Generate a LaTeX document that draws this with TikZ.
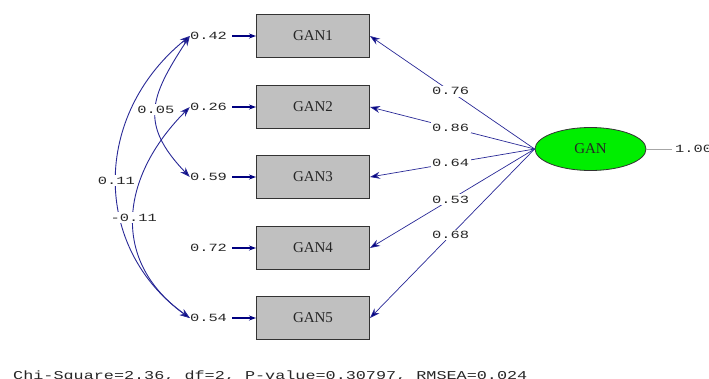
\documentclass[tikz,border=0pt]{standalone}
\usepackage{fontspec}
\setmainfont{Liberation Serif}
\newfontfamily\lismono[FakeStretch=1.4]{Liberation Mono}
\usetikzlibrary{arrows.meta,shapes.geometric}
\definecolor{lisnavy}{RGB}{0,0,128}
\definecolor{lisline}{RGB}{40,40,150}
\definecolor{lisgray}{RGB}{192,192,192}
\definecolor{lisgreen}{RGB}{0,238,0}
\tikzset{
	obsbox/.style={draw=black!80,line width=1pt,fill=lisgray,minimum width=113pt,minimum height=43pt,inner sep=0pt,font=\fontsize{15}{15}\selectfont,text=black!85},
	latell/.style={ellipse,draw=black!80,line width=0.8pt,fill=lisgreen,minimum width=111pt,minimum height=43pt,inner sep=0pt,font=\fontsize{15}{15}\selectfont,text=black!85},
	est/.style={font=\lismono\fontsize{11}{11}\selectfont,inner sep=0pt,text=black!85},
	estw/.style={est,fill=white,inner sep=1.5pt},
	loadarrow/.style={draw=lisline,line width=0.7pt,-{Stealth[length=10pt,width=7pt,fill=lisnavy]}},
	errarrow/.style={draw=lisnavy,line width=1.2pt,shorten <=5pt,-{Stealth[length=7pt,width=5pt]}},
	covarrow/.style={draw=lisline,line width=0.9pt,{Stealth[length=10pt,width=7pt,fill=lisnavy]}-{Stealth[length=10pt,width=7pt,fill=lisnavy]}}
}
\begin{document}
\begin{tikzpicture}[x=1pt,y=-1pt]
	\useasboundingbox (0,0) rectangle (709,378);
	% observed
	\node[obsbox] (g1) at (313,36) {GAN1};
	\node[obsbox] (g2) at (313,107) {GAN2};
	\node[obsbox] (g3) at (313,177) {GAN3};
	\node[obsbox] (g4) at (313,248) {GAN4};
	\node[obsbox] (g5) at (313,318) {GAN5};
	% errors
	\node[est] (e1) at (208.5,36) {0.42};
	\node[est] (e2) at (208.5,107) {0.26};
	\node[est] (e3) at (208.5,177) {0.59};
	\node[est] (e4) at (208.5,248) {0.72};
	\node[est] (e5) at (208.5,318) {0.54};
	\draw[errarrow] (e1) -- (g1);
	\draw[errarrow] (e2) -- (g2);
	\draw[errarrow] (e3) -- (g3);
	\draw[errarrow] (e4) -- (g4);
	\draw[errarrow] (e5) -- (g5);
	% latent
	\node[latell] (lat) at (590.5,149) {GAN};
	\node[est,anchor=west] (one) at (675,149) {1.00};
	\draw[gray!70,line width=0.6pt,shorten >=3pt] (lat.east) -- (one.west);
	\draw[loadarrow] (lat.west) -- (g1.east) node[estw,pos=0.51]{0.76};
	\draw[loadarrow] (lat.west) -- (g2.east) node[estw,pos=0.51]{0.86};
	\draw[loadarrow] (lat.west) -- (g3.east) node[estw,pos=0.51]{0.64};
	\draw[loadarrow] (lat.west) -- (g4.east) node[estw,pos=0.51]{0.53};
	\draw[loadarrow] (lat.west) -- (g5.east) node[estw,pos=0.51]{0.68};
	% covariances
	\draw[covarrow] (e1.west) .. controls (150,97) and (139,124) .. (e3.west) node[estw,pos=0.5]{0.05};
	\draw[covarrow] (e1.west) .. controls (92,115) and (92,248) .. (e5.west) node[estw,pos=0.5]{0.11};
	\draw[covarrow] (e2.west) .. controls (120,177) and (110,261) .. (e5.west) node[estw,pos=0.5]{-0.11};
	\node[est,anchor=base west,font=\lismono\fontsize{12}{12}\selectfont] (fit) at (13,379) {Chi-Square=2.36, df=2, P-value=0.30797, RMSEA=0.024};
\end{tikzpicture}
\end{document}
